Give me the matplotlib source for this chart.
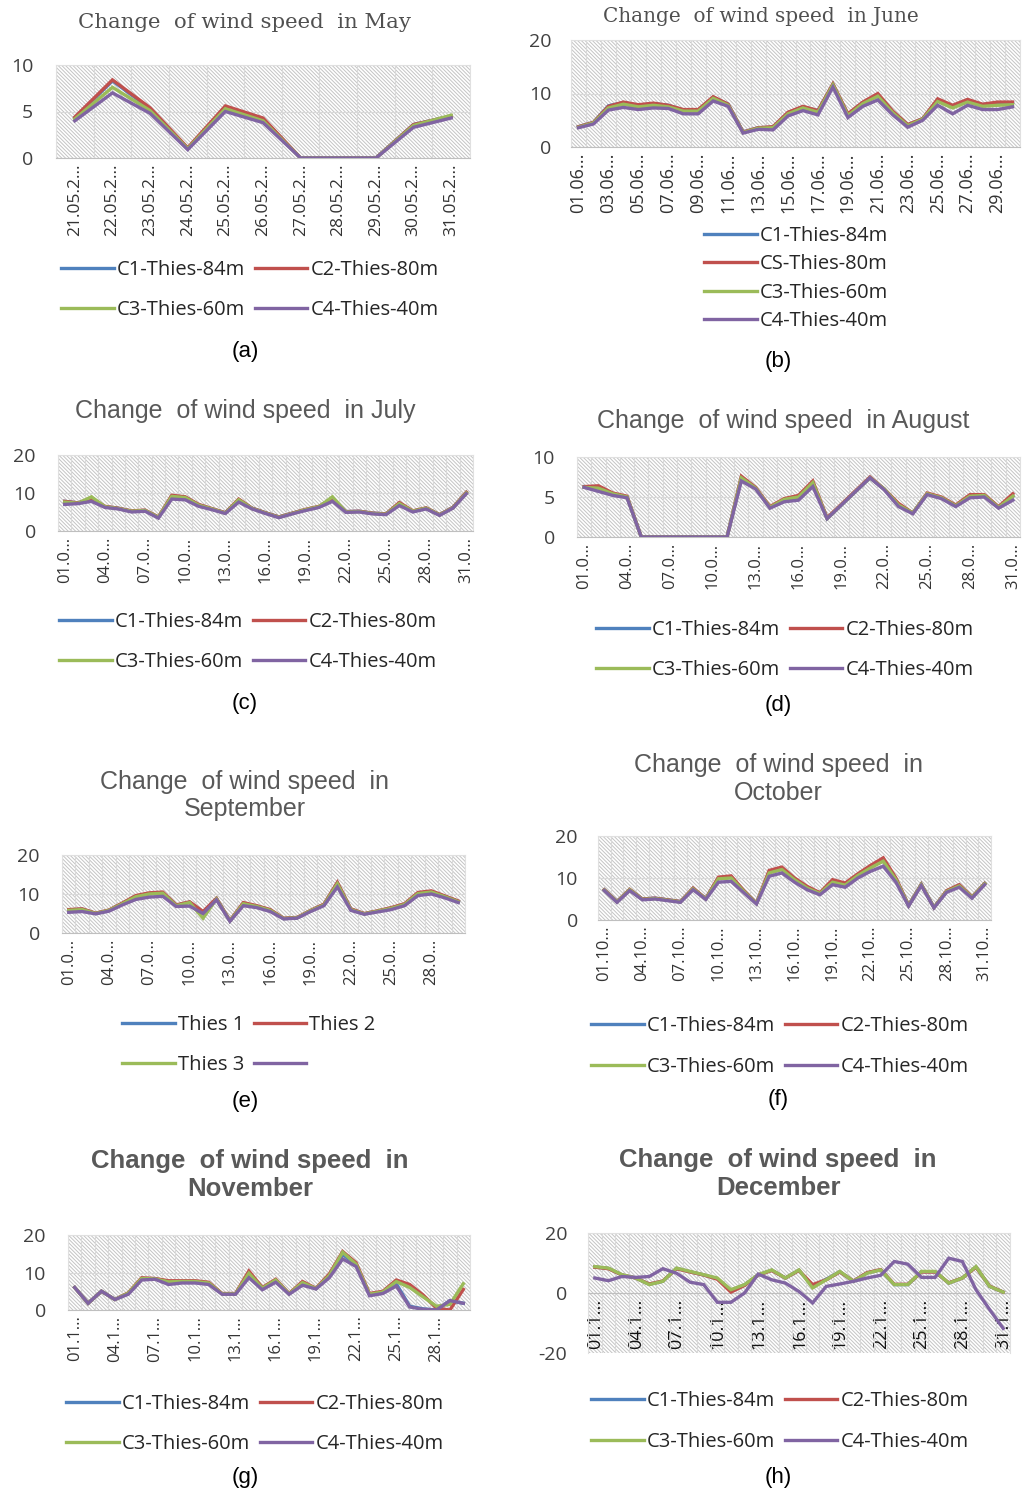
import numpy as np
import matplotlib
matplotlib.use("Agg")
import matplotlib.pyplot as plt
from matplotlib.patches import Rectangle

plt.rcParams['hatch.linewidth'] = 0.7
plt.rcParams['axes.unicode_minus'] = False

W, H = 1022, 1495

# colours of the four sensors
c_blue, c_red, c_green, c_purple = '#4F81BD', '#C0504D', '#9BBB59', '#8064A2'

# ---------------- data ----------------
may_labels = ["21.05.2...", "22.05.2...", "23.05.2...", "24.05.2...", "25.05.2...", "26.05.2...",
              "27.05.2...", "28.05.2...", "29.05.2...", "30.05.2...", "31.05.2..."]
may_c1 = [4.3, 8.3, 5.3, 1.0, 5.5, 4.2, 0, 0, 0, 3.6, 4.5]
may_c2 = [4.4, 8.4, 5.4, 1.1, 5.6, 4.3, 0, 0, 0, 3.6, 4.5]
may_c3 = [4.2, 7.6, 5.1, 1.0, 5.3, 4.0, 0, 0, 0, 3.5, 4.6]
may_c4 = [4.0, 7.0, 4.8, 0.9, 5.0, 3.8, 0, 0, 0, 3.3, 4.3]

jun_labels = ["01.06...", "03.06...", "05.06...", "07.06...", "09.06...", "11.06...", "13.06...", "15.06...",
              "17.06...", "19.06...", "21.06...", "23.06...", "25.06...", "27.06...", "29.06..."]
jun_c1 = [3.8, 4.6, 7.7, 8.3, 7.8, 8.1, 7.8, 6.9, 6.9, 9.3, 8.0, 2.8, 3.6, 3.7, 6.4, 7.5, 6.8, 11.7, 6.1, 8.3,
          9.8, 6.6, 4.1, 5.3, 8.8, 7.6, 8.7, 7.9, 8.2, 8.3]
jun_c2 = [3.8, 4.6, 7.6, 8.4, 7.9, 8.2, 7.8, 7.0, 7.0, 9.4, 8.0, 2.8, 3.6, 3.8, 6.5, 7.6, 6.8, 11.8, 6.2, 8.4,
          10.0, 6.7, 4.2, 5.3, 9.0, 7.8, 8.9, 8.0, 8.4, 8.4]
jun_c3 = [3.7, 4.5, 7.3, 8.0, 7.5, 7.8, 7.5, 6.7, 6.7, 9.1, 7.8, 2.7, 3.5, 3.6, 6.2, 7.3, 6.5, 11.6, 5.9, 8.1,
          9.5, 6.4, 4.0, 5.2, 8.5, 7.3, 8.4, 7.6, 7.8, 7.9]
jun_c4 = [3.6, 4.3, 6.9, 7.4, 7.0, 7.3, 7.2, 6.2, 6.2, 8.6, 7.6, 2.6, 3.3, 3.2, 5.8, 6.8, 6.0, 11.2, 5.5, 7.6,
          8.8, 6.0, 3.7, 5.0, 7.8, 6.2, 7.8, 7.0, 7.0, 7.5]

jul_labels = ["01.0...", "04.0...", "07.0...", "10.0...", "13.0...", "16.0...", "19.0...", "22.0...",
              "25.0...", "28.0...", "31.0..."]
jul_c1 = [7.8, 7.4, 8.4, 6.4, 6.0, 5.2, 5.4, 3.6, 9.2, 8.9, 6.9, 5.8, 4.8, 8.2, 6.0, 4.8, 3.7, 4.7, 5.6, 6.4,
          8.5, 5.1, 5.2, 4.7, 4.5, 7.3, 5.2, 6.0, 4.3, 6.2, 10.1]
jul_c2 = [7.8, 7.4, 8.6, 6.5, 6.0, 5.3, 5.5, 3.7, 9.4, 9.0, 7.0, 5.9, 4.8, 8.4, 6.0, 4.8, 3.7, 4.7, 5.7, 6.5,
          8.6, 5.1, 5.2, 4.7, 4.5, 7.5, 5.3, 6.1, 4.3, 6.2, 10.2]
jul_c3 = [7.6, 7.3, 9.0, 6.4, 5.9, 5.2, 5.4, 3.6, 9.1, 8.8, 6.8, 5.8, 4.7, 8.2, 5.9, 4.7, 3.6, 4.6, 5.6, 6.4,
          9.0, 5.0, 5.1, 4.6, 4.4, 7.2, 5.2, 6.0, 4.2, 6.1, 10.0]
jul_c4 = [7.0, 7.2, 7.8, 6.2, 5.8, 5.0, 5.2, 3.4, 8.4, 8.2, 6.5, 5.6, 4.6, 7.6, 5.8, 4.6, 3.5, 4.5, 5.4, 6.2,
          7.8, 4.9, 5.0, 4.5, 4.3, 6.7, 5.0, 5.8, 4.1, 6.0, 9.8]

aug_labels = jul_labels
aug_c1 = [6.3, 6.2, 5.4, 5.0, 0, 0, 0, 0, 0, 0, 0, 7.4, 6.1, 3.7, 4.6, 5.0, 6.8, 2.3, 4.0, 5.7,
          7.4, 6.0, 4.0, 3.0, 5.4, 4.9, 3.9, 5.1, 5.2, 3.7, 5.1]
aug_c2 = [6.3, 6.4, 5.5, 5.1, 0, 0, 0, 0, 0, 0, 0, 7.6, 6.2, 3.8, 4.8, 5.2, 7.0, 2.4, 4.1, 5.8,
          7.5, 6.0, 4.2, 3.0, 5.5, 5.0, 4.0, 5.3, 5.3, 3.8, 5.4]
aug_c3 = [6.2, 6.1, 5.4, 5.0, 0, 0, 0, 0, 0, 0, 0, 7.4, 6.1, 3.7, 4.7, 5.0, 6.8, 2.3, 4.0, 5.7,
          7.4, 6.0, 4.0, 3.0, 5.4, 4.9, 3.9, 5.1, 5.2, 3.7, 5.1]
aug_c4 = [6.2, 5.7, 5.2, 4.9, 0, 0, 0, 0, 0, 0, 0, 7.0, 6.0, 3.6, 4.4, 4.6, 6.3, 2.3, 4.0, 5.7,
          7.4, 5.9, 3.8, 2.9, 5.3, 4.8, 3.8, 4.9, 5.0, 3.6, 4.6]

sep_labels = ["01.0...", "04.0...", "07.0...", "10.0...", "13.0...", "16.0...", "19.0...", "22.0...",
              "25.0...", "28.0..."]
sep_c1 = [5.9, 6.1, 5.0, 5.8, 7.6, 9.4, 10.1, 10.3, 7.1, 7.9, 5.3, 8.8, 3.1, 7.6, 6.9, 5.9, 3.7, 3.9, 5.7, 7.3,
          12.8, 6.1, 4.9, 5.6, 6.4, 7.4, 10.2, 10.6, 9.4, 8.1]
sep_c2 = [6.0, 6.2, 5.1, 5.9, 7.7, 9.6, 10.3, 10.5, 7.2, 8.0, 5.5, 8.9, 3.2, 7.8, 7.0, 6.0, 3.8, 4.0, 5.8, 7.4,
          13.0, 6.2, 5.0, 5.7, 6.5, 7.5, 10.4, 10.8, 9.5, 8.2]
sep_c3 = [5.8, 6.0, 5.0, 5.8, 7.5, 9.3, 10.0, 10.2, 7.0, 7.8, 3.8, 8.7, 3.1, 7.5, 6.8, 5.8, 3.7, 3.9, 5.7, 7.2,
          12.6, 6.0, 4.9, 5.6, 6.3, 7.3, 10.1, 10.5, 9.3, 8.0]
sep_c4 = [5.3, 5.5, 4.9, 5.6, 7.2, 8.6, 9.2, 9.4, 6.8, 6.9, 5.0, 8.5, 3.0, 7.0, 6.5, 5.5, 3.6, 3.8, 5.5, 7.0,
          11.8, 5.8, 4.8, 5.4, 6.0, 7.0, 9.6, 10.0, 9.0, 7.8]

oct_labels = ["01.10...", "04.10...", "07.10...", "10.10...", "13.10...", "16.10...", "19.10...", "22.10...",
              "25.10...", "28.10...", "31.10..."]
oct_c1 = [7.2, 4.4, 7.2, 5.0, 5.2, 4.8, 4.4, 7.5, 5.1, 10.0, 10.3, 6.9, 4.0, 11.5, 12.3, 9.8, 7.8, 6.4, 9.3, 8.6,
          10.8, 12.8, 14.4, 9.8, 3.5, 8.5, 3.0, 6.9, 8.3, 5.4, 8.7]
oct_c2 = [7.2, 4.4, 7.3, 5.0, 5.2, 4.8, 4.4, 7.6, 5.1, 10.2, 10.5, 7.0, 4.0, 11.8, 12.6, 10.0, 8.0, 6.5, 9.6, 8.8,
          11.0, 13.0, 14.8, 10.0, 3.5, 8.5, 3.0, 7.0, 8.4, 5.5, 8.7]
oct_c3 = [7.1, 4.3, 7.2, 4.9, 5.1, 4.7, 4.3, 7.4, 5.0, 9.8, 10.0, 6.8, 3.9, 11.2, 12.0, 9.6, 7.6, 6.3, 9.0, 8.3,
          10.6, 12.4, 14.0, 9.6, 3.4, 8.4, 3.0, 6.8, 8.1, 5.4, 8.6]
oct_c4 = [7.0, 4.2, 7.0, 4.8, 5.0, 4.6, 4.2, 7.2, 4.9, 9.0, 9.2, 6.5, 3.8, 10.4, 11.2, 9.0, 7.2, 6.0, 8.4, 7.8,
          10.0, 11.6, 12.8, 9.0, 3.3, 8.2, 2.9, 6.6, 7.8, 5.2, 8.4]

nov_labels = ["01.1...", "04.1...", "07.1...", "10.1...", "13.1...", "16.1...", "19.1...", "22.1...",
              "25.1...", "28.1..."]
nov_c1 = [6.0, 1.8, 5.0, 2.8, 4.4, 8.3, 8.3, 7.3, 7.5, 7.5, 7.1, 4.3, 4.3, 9.4, 5.7, 7.8, 4.3, 7.1, 5.7, 9.0,
          14.8, 12.0, 4.1, 4.7, 7.0, 1.0, 0.3, 0.0, 2.5, 1.8]
nov_c2 = [6.0, 1.8, 5.0, 2.8, 4.6, 8.6, 8.4, 7.8, 7.8, 7.8, 7.4, 4.4, 4.4, 10.4, 6.0, 8.2, 4.4, 7.6, 5.8, 9.6,
          15.6, 12.6, 4.4, 5.0, 8.0, 6.8, 4.0, 0.5, 0.0, 5.5]
nov_c3 = [6.0, 1.8, 5.0, 2.8, 4.5, 8.4, 8.3, 7.5, 7.6, 7.6, 7.2, 4.3, 4.3, 9.8, 5.8, 8.0, 4.3, 7.3, 5.7, 9.2,
          15.4, 12.2, 4.2, 4.8, 7.6, 6.0, 3.5, 1.0, 1.5, 7.0]
nov_c4 = [6.0, 1.8, 5.0, 2.8, 4.2, 8.0, 8.2, 6.8, 7.2, 7.2, 6.8, 4.2, 4.2, 8.6, 5.4, 7.4, 4.2, 6.6, 5.6, 8.6,
          13.6, 11.6, 3.8, 4.4, 6.4, 0.8, 0.2, 0.0, 2.5, 1.8]

dec_labels = ["01.1...", "04.1...", "07.1...", "10.1...", "13.1...", "16.1...", "19.1...", "22.1...",
              "25.1...", "28.1...", "31.1..."]
dec_c1 = [8.7, 8.2, 6.0, 5.0, 2.9, 3.9, 8.2, 7.1, 6.0, 4.8, 0.8, 2.7, 6.0, 7.6, 5.0, 7.6, 2.2, 4.6, 7.1, 3.9,
          6.7, 7.7, 2.8, 2.8, 7.1, 7.1, 3.3, 5.0, 8.7, 2.2, 0.3]
dec_c2 = [8.6, 8.1, 6.0, 5.0, 3.0, 4.0, 8.1, 7.0, 6.0, 4.6, 0.3, 2.5, 6.0, 7.5, 5.0, 7.5, 2.8, 4.4, 7.0, 4.0,
          6.8, 7.8, 2.9, 2.9, 7.0, 7.0, 3.4, 5.0, 8.6, 2.3, 0.3]
dec_c3 = [8.8, 8.3, 6.1, 5.0, 2.8, 3.9, 8.3, 7.2, 6.1, 5.0, 1.1, 2.8, 6.1, 7.7, 5.0, 7.7, 1.7, 4.4, 7.2, 3.9,
          6.6, 7.7, 2.8, 2.8, 7.2, 7.2, 3.3, 5.0, 8.8, 2.2, 0.3]
dec_c4 = [5.0, 4.1, 5.5, 5.2, 5.5, 8.1, 6.6, 3.6, 2.8, -3.1, -3.1, 0.0, 6.3, 4.4, 3.3, 0.5, -3.3, 2.2, 3.0, 3.9,
          5.0, 5.9, 10.5, 9.6, 5.2, 5.2, 11.6, 10.5, 1.1, -5.5, -11.8]

names_std = ["C1-Thies-84m", "C2-Thies-80m", "C3-Thies-60m", "C4-Thies-40m"]
names_jun = ["C1-Thies-84m", "CS-Thies-80m", "C3-Thies-60m", "C4-Thies-40m"]
names_sep = ["Thies 1", "Thies 2", "Thies 3", ""]

fig = plt.figure(figsize=(W / 100, H / 100), dpi=100)


def panel(box, series, ylim, yticks, step, labels, xfs, ypad, zero_axis=False):
    x0, y0, x1, y1 = box
    ax = fig.add_axes([x0 / W, 1 - y1 / H, (x1 - x0) / W, (y1 - y0) / H])
    if zero_axis:
        # category axis crosses the value axis at 0
        ax.spines['bottom'].set_position(('data', 0))
    n = len(series[0])
    x = np.arange(n)
    ax.add_patch(Rectangle((0, 0), 1, 1, transform=ax.transAxes, facecolor='white',
                           edgecolor='#c4c4c4', hatch='\\' * 9, lw=0, zorder=0))
    lines = []
    for s, c in zip(series, [c_blue, c_red, c_green, c_purple]):
        ln, = ax.plot(x, s, color=c, lw=2.4, solid_joinstyle='miter', zorder=3)
        lines.append(ln)
    ax.set_xlim(-0.5, n - 0.5)
    ax.set_ylim(*ylim)
    ax.set_yticks(yticks)
    ax.set_xticks(x[::step])
    ax.set_xticklabels(labels, rotation=90, fontsize=xfs, color='#333333', family='Open Sans')
    ax.set_xticks(np.arange(n + 1) - 0.5, minor=True)
    ax.tick_params(axis='x', which='both', length=0, pad=4)
    ax.tick_params(axis='y', length=0, pad=ypad, labelsize=14, labelcolor='#404040')
    for t in ax.get_yticklabels():
        t.set_family('Open Sans')
    ax.grid(axis='y', which='major', color='#d9d9d9', lw=0.8, zorder=1)
    ax.grid(axis='x', which='minor', color='#d9d9d9', lw=0.8, zorder=1)
    for sp in ax.spines.values():
        sp.set_color('#e0e0e0')
        sp.set_linewidth(0.8)
    ax.spines['bottom'].set_color('#bfbfbf')
    ax.patch.set_alpha(0)
    return ax, lines


def legend(lines, names, cx, cy, ncol=2, spacing=1.0, colsp=0.5):
    if ncol == 2:
        order = [0, 2, 1, 3]
    else:
        order = [0, 1, 2, 3]
    fig.legend([lines[i] for i in order], [names[i] for i in order], ncol=ncol, loc='center',
               bbox_to_anchor=(cx / W, 1 - cy / H), frameon=False, handlelength=2.6,
               handletextpad=0.15, columnspacing=colsp, labelspacing=spacing,
               prop={'family': 'Open Sans', 'size': 14.5}, labelcolor='#262626')


def title(txt, cx, cy, style, size=None):
    if style == 'serif':
        fig.text(cx / W, 1 - cy / H, txt, ha='center', va='center', fontsize=size or 15.3,
                 family='DejaVu Serif', color='#505050')
    elif style == 'bold':
        fig.text(cx / W, 1 - cy / H, txt, ha='center', va='center', fontsize=18.5,
                 family='Liberation Sans', weight='bold', color='#595959', linespacing=1.2)
    else:
        fig.text(cx / W, 1 - cy / H, txt, ha='center', va='center', fontsize=18,
                 family='Liberation Sans', color='#595959', linespacing=1.2)


def caption(txt, cx, cy):
    fig.text(cx / W, 1 - cy / H, txt, ha='center', va='center', fontsize=16,
             family='Liberation Sans', color='black')


# (a) May
ax, ln = panel((56, 65, 470, 158), [may_c1, may_c2, may_c3, may_c4], (0, 10), [0, 5, 10], 1,
               may_labels, 12.5, 16.5)
title("Change  of wind speed  in May", 245, 22, 'serif')
legend(ln, names_std, 250, 290)
caption("(a)", 245, 352)

# (b) June
ax, ln = panel((571, 40, 1020, 147), [jun_c1, jun_c2, jun_c3, jun_c4], (0, 20), [0, 10, 20], 2,
               jun_labels, 13, 14)
title("Change  of wind speed  in June", 761, 17, 'serif', size=14.4)
legend(ln, names_jun, 796, 278.5, ncol=1, spacing=0.42)
caption("(b)", 778, 362)

# (c) July
ax, ln = panel((58, 455, 473, 531), [jul_c1, jul_c2, jul_c3, jul_c4], (0, 20), [0, 10, 20], 3,
               jul_labels, 12, 16)
title("Change  of wind speed  in July", 245, 411, 'sans')
legend(ln, names_std, 248, 642)
caption("(c)", 245, 703)

# (d) August
ax, ln = panel((577, 457, 1020, 537), [aug_c1, aug_c2, aug_c3, aug_c4], (0, 10), [0, 5, 10], 3,
               aug_labels, 12, 16)
title("Change  of wind speed  in August", 783, 421, 'sans')
legend(ln, names_std, 785, 650)
caption("(d)", 778, 705)

# (e) September
ax, ln = panel((62, 855, 465, 933), [sep_c1, sep_c2, sep_c3, sep_c4], (0, 20), [0, 10, 20], 3,
               sep_labels, 12, 16)
title("Change  of wind speed  in\nSeptember", 245, 795.5, 'sans')
legend(ln, names_sep, 249, 1045)
caption("(e)", 245, 1102)

# (f) October
ax, ln = panel((598, 836, 991, 920), [oct_c1, oct_c2, oct_c3, oct_c4], (0, 20), [0, 10, 20], 3,
               oct_labels, 12, 14.5)
title("Change  of wind speed  in\nOctober", 778, 779, 'sans')
legend(ln, names_std, 780, 1046.5)
caption("(f)", 778, 1099)

# (g) November
ax, ln = panel((68, 1235, 470, 1310), [nov_c1, nov_c2, nov_c3, nov_c4], (0, 20), [0, 10, 20], 3,
               nov_labels, 12, 16)
title("Change  of wind speed  in\nNovember", 250, 1175, 'bold')
legend(ln, names_std, 255, 1424)
caption("(g)", 245, 1478)

# (h) December
ax, ln = panel((588, 1233, 1010, 1353), [dec_c1, dec_c2, dec_c3, dec_c4], (-20, 20), [-20, 0, 20], 3,
               dec_labels, 13, 15, zero_axis=True)
for t in ax.get_xticklabels():
    t.set_color('#111111')
    t.set_zorder(5)
title("Change  of wind speed  in\nDecember", 778, 1174, 'bold')
legend(ln, names_std, 780, 1421.5)
caption("(h)", 778, 1478)

fig.savefig("out.png", dpi=100)
